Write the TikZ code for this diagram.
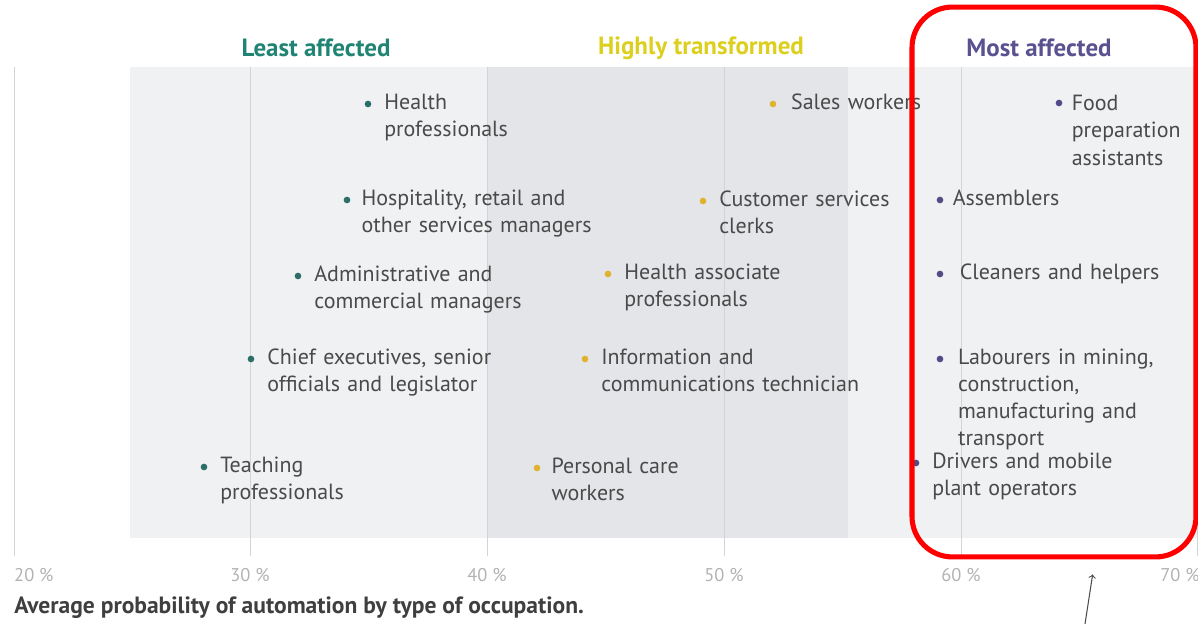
\documentclass[tikz,border=0pt]{standalone}
\usepackage{fontspec}
\setmainfont{PT Sans}
\usetikzlibrary{positioning}

\definecolor{tealdot}{HTML}{2B6E68}
\definecolor{tealhead}{HTML}{1F8473}
\definecolor{golddot}{HTML}{E0B22E}
\definecolor{goldhead}{HTML}{DCCF1E}
\definecolor{violetdot}{HTML}{514B88}
\definecolor{violethead}{HTML}{5A5290}
\definecolor{bandlight}{HTML}{F0F1F3}
\definecolor{banddark}{HTML}{E3E5E8}
\definecolor{gridgray}{HTML}{D2D4D7}
\definecolor{txtgray}{HTML}{4A4A4A}
\definecolor{tickgray}{HTML}{B2B2B2}

\tikzset{
  dot/.style={circle,fill=#1,inner sep=0pt,minimum size=3.8pt},
  lbl/.style={anchor=base west,yshift=-3pt,align=left,text width=6.5cm,inner sep=0pt,
    text=txtgray,font=\fontsize{12.5}{15.4}\selectfont},
  head/.style={text=#1,font=\bfseries\fontsize{14.2}{16}\selectfont},
  tick/.style={text=tickgray,font=\fontsize{10.5}{12}\selectfont},
}

\begin{document}
\begin{tikzpicture}[x=0.02cm,y=-0.02cm]
\useasboundingbox (0,0) rectangle (1198,624);

% bands
\fill[bandlight] (130,67) rectangle (1198,538);
\fill[banddark] (487,67) rectangle (848,538);

% grid and axis
\foreach \p/\x in {20/14,30/250,40/487,50/724,60/961,70/1197}
  \draw[gridgray,line width=.5pt] (\x,67) -- (\x,556);
\node[tick,anchor=west] (t20) at (8,575) {20 \%};
\node[tick] (t30) at (250,575) {30 \%};
\node[tick] (t40) at (487,575) {40 \%};
\node[tick] (t50) at (724,575) {50 \%};
\node[tick] (t60) at (961,575) {60 \%};
\node[tick] (t70) at (1180,575) {70 \%};

% headers
\node[head=tealhead] (least) at (316,48) {Least affected};
\node[head=goldhead] (trans) at (701,48) {Highly transformed};
\node[head=violethead] (most) at (1039,48) {Most affected};

% least affected
\node[dot=tealdot] (dhp) at (368,104) {};
\node[right=7pt of dhp,lbl] (hp) {Health\\professionals};
\node[dot=tealdot] (dhr) at (347,200) {};
\node[right=6pt of dhr,lbl] (hr) {Hospitality, retail and\\other services managers};
\node[dot=tealdot] (dac) at (298,276) {};
\node[right=7pt of dac,lbl] (ac) {Administrative and\\commercial managers};
\node[dot=tealdot] (dce) at (251,359) {};
\node[right=7pt of dce,lbl] (ce) {Chief executives, senior\\officials and legislator};
\node[dot=tealdot] (dtp) at (204,467) {};
\node[right=7pt of dtp,lbl] (tp) {Teaching\\professionals};

% highly transformed
\node[dot=golddot] (dsw) at (773,104) {};
\node[right=8pt of dsw,lbl] (sw) {Sales workers};
\node[dot=golddot] (dcs) at (703,201) {};
\node[right=7pt of dcs,lbl] (cs) {Customer services\\clerks};
\node[dot=golddot] (dha) at (608,274) {};
\node[right=7pt of dha,lbl] (ha) {Health associate\\professionals};
\node[dot=golddot] (dic) at (585,359) {};
\node[right=7pt of dic,lbl] (ic) {Information and\\communications technician};
\node[dot=golddot] (dpc) at (537,468) {};
\node[right=6pt of dpc,lbl] (pc) {Personal care\\workers};

% most affected
\node[dot=violetdot] (dfp) at (1059,103) {};
\node[right=5pt of dfp,lbl,yshift=-1.5pt] (fp) {Food\\preparation\\assistants};
\node[dot=violetdot] (das) at (940,200) {};
\node[right=5pt of das,lbl] (as) {Assemblers};
\node[dot=violetdot] (dch) at (940,274) {};
\node[right=9pt of dch,lbl] (ch) {Cleaners and helpers};
\node[dot=violetdot] (dlm) at (940,359) {};
\node[right=8pt of dlm,lbl] (lm) {Labourers in mining,\\construction,\\manufacturing and\\transport};
\node[dot=violetdot] (ddm) at (916,463) {};
\node[right=7pt of ddm,lbl] (dm) {Drivers and mobile\\plant operators};

% caption
\node[anchor=west,inner sep=0pt,text=txtgray!85!black,font=\bfseries\fontsize{13.4}{15}\selectfont] (cap) at (14,608) {Average probability of automation by type of occupation.};

% highlight
\node[draw=red,line width=2.9pt,rounded corners=23pt,minimum width=5.68cm,minimum height=11cm] (focus) at (1054,282) {};
\coordinate (tail) at (1085,624);
\draw[->,black!70,line width=.6pt] (tail) -- ([xshift=22pt,yshift=-8.5pt]focus.south);
\end{tikzpicture}
\end{document}
